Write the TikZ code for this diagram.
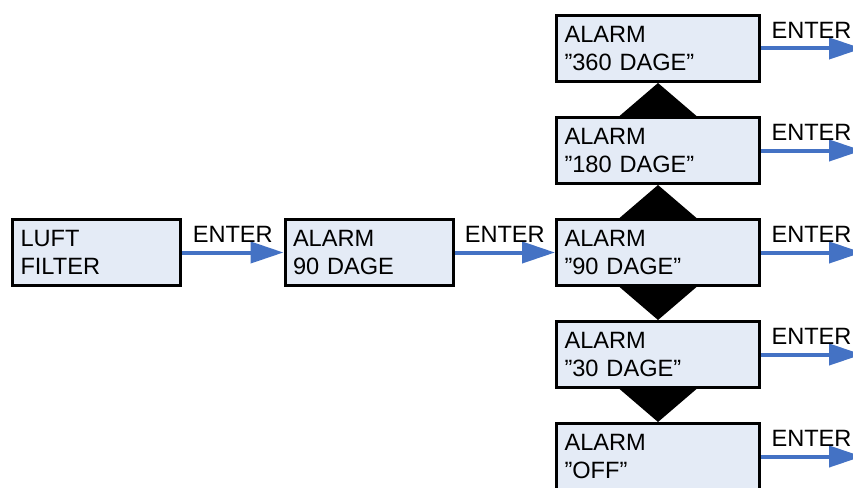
\documentclass[tikz,border=0pt]{standalone}
\usepackage{fontspec}
\setmainfont{Liberation Sans}
\usetikzlibrary{arrows.meta,calc}
\definecolor{boxfill}{RGB}{228,235,246}
\definecolor{arrowblue}{RGB}{68,114,196}
\tikzset{
  stepbox/.style={draw=black, line width=3pt, fill=boxfill, rectangle,
    minimum height=66pt, inner xsep=8pt, inner ysep=0pt, align=left,
    font=\fontsize{23.6}{28.5}\selectfont},
  leftbox/.style={stepbox, minimum width=168pt, text width=152pt},
  colbox/.style={stepbox, minimum width=203pt, text width=187pt},
  enterarrow/.style={draw=arrowblue, line width=4pt,
    -{Triangle[length=33pt,width=21pt]}},
  enterlabel/.style={midway, anchor=base, yshift=10pt, inner sep=0pt,
    font=\fontsize{23.6}{28}\selectfont, text=black},
  pointer/.style={fill=black}
}
\begin{document}
\begin{tikzpicture}[x=1pt,y=-1pt]
\useasboundingbox (0,0) rectangle (853,487);
% boxes
\node[leftbox] (luft) at (96.5,252.5) {LUFT\\FILTER};
\node[leftbox] (alarm) at (369,252.5) {ALARM\\90 DAGE};
\node[colbox] (d360) at (658,48.5) {ALARM\\”360 DAGE”};
\node[colbox] (d180) at (658,150.5) {ALARM\\”180 DAGE”};
\node[colbox] (d90) at (658,252.5) {ALARM\\”90 DAGE”};
\node[colbox] (d30) at (658,354.5) {ALARM\\”30 DAGE”};
\node[colbox] (doff) at (658,456.5) {ALARM\\”OFF”};
% triangles between column boxes
\fill[pointer] (d360.south) -- ($(d180.north)+(-38.5,0)$) -- ($(d180.north)+(38.5,0)$) -- cycle;
\fill[pointer] (d180.south) -- ($(d90.north)+(-38.5,0)$) -- ($(d90.north)+(38.5,0)$) -- cycle;
\fill[pointer] ($(d90.south)+(-38.5,0)$) -- ($(d90.south)+(38.5,0)$) -- (d30.north) -- cycle;
\fill[pointer] ($(d30.south)+(-38.5,0)$) -- ($(d30.south)+(38.5,0)$) -- (doff.north) -- cycle;
% free ends of the right-hand arrows
\coordinate (e360) at (862,48.5);
\coordinate (e180) at (862,150.5);
\coordinate (e90) at (862,252.5);
\coordinate (e30) at (862,354.5);
\coordinate (eoff) at (862,456.5);
% arrows
\draw[enterarrow] (luft.east) -- (alarm.west) node[enterlabel] {ENTER};
\draw[enterarrow] (alarm.east) -- (d90.west) node[enterlabel] {ENTER};
\draw[enterarrow] (d360.east) -- (e360) node[enterlabel] {ENTER};
\draw[enterarrow] (d180.east) -- (e180) node[enterlabel] {ENTER};
\draw[enterarrow] (d90.east) -- (e90) node[enterlabel] {ENTER};
\draw[enterarrow] (d30.east) -- (e30) node[enterlabel] {ENTER};
\draw[enterarrow] (doff.east) -- (eoff) node[enterlabel] {ENTER};
\end{tikzpicture}
\end{document}
